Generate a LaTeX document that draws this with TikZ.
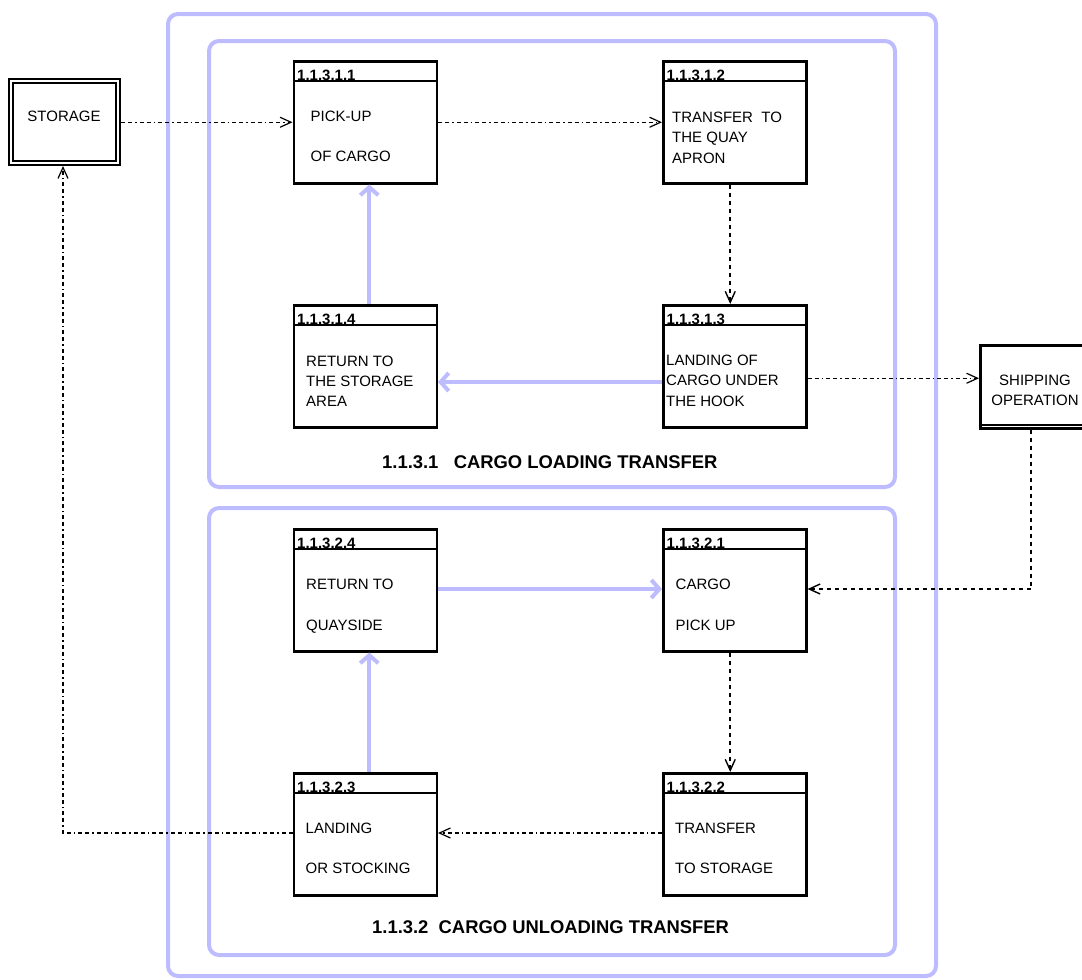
\documentclass[tikz,border=0pt]{standalone}
\usepackage{fontspec}
\setmainfont{Liberation Sans}
\usetikzlibrary{arrows.meta}
\definecolor{bl}{RGB}{188,188,255}
\tikzset{
  x=1pt, y=-1pt,
  frame/.style={draw=bl, line width=4pt, rounded corners=10pt},
  pbox/.style={draw, line width=2.5pt, minimum width=143pt, minimum height=122pt, inner sep=0pt, anchor=north west},
  ext/.style={draw, line width=2pt, inner sep=0pt, anchor=north west},
  hdr/.style={line width=2.2pt},
  idtxt/.style={font=\fontsize{15}{18}\selectfont\bfseries, inner sep=0pt, anchor=base west},
  bodytxt/.style={font=\fontsize{15}{18}\selectfont, inner sep=0pt, anchor=base west},
  ctrtxt/.style={font=\fontsize{15}{18}\selectfont, inner sep=0pt, anchor=base},
  ttl/.style={font=\fontsize{18.4}{22}\selectfont\bfseries, inner sep=0pt, anchor=base west},
  conn/.style={line width=1.2pt, dash pattern=on 4pt off 3pt on 4pt off 3pt on 1.5pt off 3pt,
     -{Straight Barb[length=11pt,width=10pt,line width=1.2pt]}},
  vconn/.style={line width=2pt, dash pattern=on 4pt off 4pt,
     -{Straight Barb[length=11pt,width=10pt,line width=1.4pt]}},
  blarrow/.style={draw=bl, line width=4pt, -{Straight Barb[length=8pt,width=18pt]}},
}
\newcommand\procbox[4]{% name, left, top, id
  \node[pbox] (#1) at (#2,#3) {};
  \node[idtxt] (#1-id) at ([xshift=4.5pt,yshift=-20pt]#1.north west) {#4};
  \draw[hdr] ([yshift=-21pt]#1.north west) -- ([yshift=-21pt]#1.north east);
}
\begin{document}
\begin{tikzpicture}
\useasboundingbox (0,0) rectangle (1082,980);
\clip (0,0) rectangle (1082,980);

% frames
\draw[frame] (168,14) rectangle (936,976);
\draw[frame] (209,41) rectangle (895,487);
\draw[frame] (209,508) rectangle (895,955);

\node[ttl] (t1) at (382,468.5) {1.1.3.1\ \ \ CARGO LOADING TRANSFER};
\node[ttl] (t2) at (372,933) {1.1.3.2\ \ CARGO UNLOADING TRANSFER};

% process boxes
\procbox{a1}{292.5}{60}{1.1.3.1.1}
\procbox{a2}{662}{60}{1.1.3.1.2}
\procbox{a3}{662}{304}{1.1.3.1.3}
\procbox{a4}{292.5}{304}{1.1.3.1.4}
\procbox{b4}{292.5}{528}{1.1.3.2.4}
\procbox{b1}{662}{528}{1.1.3.2.1}
\procbox{b3}{292.5}{772}{1.1.3.2.3}
\procbox{b2}{662}{772}{1.1.3.2.2}

% body texts
\node[bodytxt] (a1-l1) at (310.5,121) {PICK-UP};
\node[bodytxt] (a1-l2) at (310.5,161) {OF CARGO};
\node[bodytxt] (a2-l1) at (672,122) {TRANSFER\ \ TO};
\node[bodytxt] (a2-l2) at (672,142.5) {THE QUAY};
\node[bodytxt] (a2-l3) at (672,163) {APRON};
\node[bodytxt] (a3-l1) at (666,365) {LANDING OF};
\node[bodytxt] (a3-l2) at (666,385.5) {CARGO UNDER};
\node[bodytxt] (a3-l3) at (666,406) {THE HOOK};
\node[bodytxt] (a4-l1) at (306,366) {RETURN TO};
\node[bodytxt] (a4-l2) at (306,386) {THE STORAGE};
\node[bodytxt] (a4-l3) at (306,406) {AREA};
\node[bodytxt] (b4-l1) at (306,589) {RETURN TO};
\node[bodytxt] (b4-l2) at (306,630) {QUAYSIDE};
\node[bodytxt] (b1-l1) at (675.5,589) {CARGO};
\node[bodytxt] (b1-l2) at (675.5,630) {PICK UP};
\node[bodytxt] (b3-l1) at (305.5,833) {LANDING};
\node[bodytxt] (b3-l2) at (305.5,873) {OR STOCKING};
\node[bodytxt] (b2-l1) at (675,833) {TRANSFER};
\node[bodytxt] (b2-l2) at (675,873) {TO STORAGE};

% external entities
\node[ext, minimum width=111pt, minimum height=86pt] (st) at (8,78) {};
\draw[line width=1.8pt] ([xshift=5pt,yshift=-5pt]st.north west) rectangle ([xshift=-5pt,yshift=5pt]st.south east);
\node[ctrtxt] (st-t) at (64,121) {STORAGE};

\node[ext, line width=2.5pt, minimum width=130pt, minimum height=83pt] (sh) at (979,344) {};
\draw[line width=1.8pt] ([yshift=4.5pt]sh.south west) -- ([yshift=4.5pt]sh.south east);
\node[ctrtxt] (sh-t1) at (1035,385) {SHIPPING};
\node[ctrtxt] (sh-t2) at (1035,405.5) {OPERATION};

% black connectors
\draw[conn] (st.east |- a1.west) -- (a1.west);
\draw[conn] (a1.east) -- (a2.west);
\draw[vconn] ([xshift=-4.5pt]a2.south) -- ([xshift=-4.5pt]a3.north);
\draw[conn] ([yshift=-12pt]a3.east) -- ([yshift=-12pt]a3.east -| sh.west);
\coordinate (shc) at (1031,589);
\draw[vconn] (shc |- sh.south) -- (shc) -- ([yshift=-61pt]b1.north east);
\draw[vconn] ([xshift=-4.5pt]b1.south) -- ([xshift=-4.5pt]b2.north);
\draw[conn] ([yshift=-61pt]b2.north west) -- ([yshift=-61pt]b3.north east);
\coordinate (stc) at (63,833);
\draw[conn, line width=1.5pt] ([yshift=-61pt]b3.north west) -- (stc) -- (stc |- st.south);

% blue flows
\draw[blarrow] ([yshift=-78pt]a3.north west) -- ([yshift=-78pt]a4.north east);
\draw[blarrow] ([xshift=4pt]a4.north) -- ([xshift=4pt]a1.south);
\draw[blarrow] ([yshift=-61pt]b4.north east) -- ([yshift=-61pt]b1.north west);
\draw[blarrow] ([xshift=4pt]b3.north) -- ([xshift=4pt]b4.south);
\end{tikzpicture}
\end{document}
